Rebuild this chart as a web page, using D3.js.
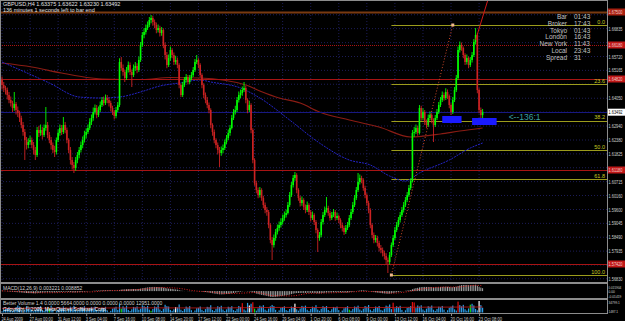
<!DOCTYPE html>
<html>
<head>
<meta charset="utf-8">
<script src="https://cdn.jsdelivr.net/npm/d3@7"></script>
<style>
body { margin: 0; background: #000; }
svg { display: block; font-family: "Liberation Sans", Arial, sans-serif; }
</style>
</head>
<body>
<svg id="chart" width="625" height="321"></svg>
<script>
// GBPUSD H4, 24 Aug - 23 Oct 2009

var firstOpen = 1.6478;
var closes = [
  1.6458,1.6446,1.6438,1.6418,1.6398,1.6386,1.6366,1.6382,1.6358,1.6346,
  1.6326,1.6298,1.6270,1.6238,1.6218,1.6230,1.6238,1.6218,1.6198,1.6178,
  1.6278,1.6266,1.6278,1.6258,1.6286,1.6298,1.6258,1.6238,1.6218,1.6198,
  1.6190,1.6238,1.6266,1.6286,1.6270,1.6298,1.6278,1.6238,1.6198,1.6158,
  1.6138,1.6126,1.6158,1.6178,1.6198,1.6218,1.6238,1.6258,1.6270,1.6286,
  1.6310,1.6326,1.6350,1.6366,1.6338,1.6358,1.6378,1.6398,1.6386,1.6406,
  1.6398,1.6386,1.6366,1.6350,1.6334,1.6358,1.6378,1.6550,1.6526,1.6510,
  1.6486,1.6518,1.6538,1.6510,1.6498,1.6526,1.6534,1.6518,1.6558,1.6618,
  1.6658,1.6670,1.6686,1.6698,1.6718,1.6726,1.6710,1.6698,1.6678,1.6686,
  1.6666,1.6678,1.6618,1.6578,1.6538,1.6566,1.6598,1.6578,1.6550,1.6558,
  1.6538,1.6458,1.6418,1.6458,1.6478,1.6490,1.6470,1.6486,1.6498,1.6518,
  1.6550,1.6558,1.6538,1.6498,1.6458,1.6418,1.6398,1.6378,1.6358,1.6298,
  1.6270,1.6238,1.6218,1.6198,1.6186,1.6198,1.6206,1.6230,1.6246,1.6266,
  1.6286,1.6326,1.6350,1.6358,1.6398,1.6418,1.6426,1.6438,1.6446,1.6398,
  1.6358,1.6378,1.6278,1.6158,1.6066,1.6038,1.6018,1.6038,1.6006,1.5978,
  1.5958,1.5950,1.5898,1.5838,1.5818,1.5846,1.5870,1.5886,1.5898,1.5910,
  1.5926,1.5938,1.5946,1.5978,1.6018,1.6058,1.6086,1.6098,1.6038,1.6006,
  1.5986,1.5998,1.5970,1.5958,1.5978,1.5950,1.5926,1.5938,1.5910,1.5878,
  1.5846,1.5858,1.5910,1.5938,1.5958,1.5966,1.5946,1.5926,1.5938,1.5950,
  1.5926,1.5934,1.5918,1.5898,1.5886,1.5870,1.5886,1.5898,1.5926,1.5950,
  1.5978,1.6006,1.6038,1.6070,1.6086,1.6078,1.6046,1.6018,1.5986,1.5958,
  1.5898,1.5858,1.5838,1.5846,1.5826,1.5806,1.5798,1.5786,1.5774,1.5758,
  1.5750,1.5778,1.5818,1.5846,1.5878,1.5898,1.5918,1.5938,1.5958,1.5978,
  1.5998,1.6018,1.6046,1.6074,1.6266,1.6270,1.6286,1.6266,1.6366,1.6326,
  1.6350,1.6310,1.6298,1.6326,1.6338,1.6318,1.6298,1.6326,1.6350,1.6378,
  1.6398,1.6418,1.6406,1.6430,1.6414,1.6378,1.6350,1.6398,1.6438,1.6486,
  1.6598,1.6618,1.6606,1.6578,1.6550,1.6566,1.6538,1.6558,1.6578,1.6630,
  1.6658,1.6438,1.6358,1.63375,1.63492
];
var highs = [
  1.6492,1.6470,1.6455,1.6448,1.6430,1.6412,1.6395,1.6430,1.6390,1.6372,
  1.6355,1.6335,1.6310,1.6282,1.6250,1.6245,1.6255,1.6248,1.6230,1.6210,
  1.6290,1.6295,1.6300,1.6290,1.6300,1.6370,1.6310,1.6270,1.6250,1.6228,
  1.6215,1.6248,1.6280,1.6300,1.6298,1.6330,1.6310,1.6288,1.6245,1.6210,
  1.6170,1.6150,1.6170,1.6190,1.6210,1.6232,1.6252,1.6275,1.6285,1.6300,
  1.6325,1.6340,1.6368,1.6380,1.6378,1.6372,1.6392,1.6410,1.6412,1.6420,
  1.6418,1.6408,1.6395,1.6375,1.6358,1.6370,1.6390,1.6565,1.6570,1.6540,
  1.6520,1.6530,1.6552,1.6548,1.6520,1.6540,1.6550,1.6545,1.6572,1.6630,
  1.6670,1.6685,1.6700,1.6712,1.6730,1.6738,1.6735,1.6720,1.6708,1.6700,
  1.6695,1.6690,1.6685,1.6628,1.6590,1.6580,1.6612,1.6605,1.6588,1.6575,
  1.6568,1.6545,1.6465,1.6470,1.6490,1.6502,1.6498,1.6498,1.6510,1.6530,
  1.6562,1.6578,1.6565,1.6545,1.6505,1.6465,1.6428,1.6410,1.6388,1.6365,
  1.6305,1.6280,1.6245,1.6228,1.6210,1.6212,1.6220,1.6240,1.6258,1.6280,
  1.6298,1.6338,1.6362,1.6375,1.6410,1.6432,1.6440,1.6452,1.6470,1.6455,
  1.6405,1.6395,1.6385,1.6285,1.6165,1.6075,1.6048,1.6050,1.6045,1.6015,
  1.5988,1.5970,1.5958,1.5905,1.5850,1.5860,1.5882,1.5900,1.5912,1.5925,
  1.5940,1.5952,1.5960,1.5990,1.6030,1.6070,1.6098,1.6110,1.6105,1.6045,
  1.6015,1.6012,1.6005,1.5980,1.5992,1.5985,1.5958,1.5952,1.5945,1.5918,
  1.5885,1.5870,1.5922,1.5950,1.5972,1.6010,1.5975,1.5955,1.5950,1.5962,
  1.5958,1.5948,1.5940,1.5925,1.5908,1.5895,1.5898,1.5910,1.5938,1.5962,
  1.5990,1.6018,1.6050,1.6106,1.6100,1.6095,1.6085,1.6055,1.6025,1.5995,
  1.5965,1.5905,1.5868,1.5858,1.5855,1.5835,1.5818,1.5808,1.5795,1.5785,
  1.5768,1.5790,1.5828,1.5858,1.5890,1.5910,1.5930,1.5950,1.5970,1.5990,
  1.6010,1.6030,1.6058,1.6085,1.6278,1.6290,1.6300,1.6295,1.6378,1.6375,
  1.6365,1.6358,1.6320,1.6340,1.6352,1.6345,1.6325,1.6338,1.6362,1.6390,
  1.6410,1.6432,1.6428,1.6445,1.6440,1.6420,1.6385,1.6410,1.6450,1.6498,
  1.6612,1.6632,1.6628,1.6612,1.6585,1.6580,1.6572,1.6570,1.6590,1.6642,
  1.6686,1.6665,1.6445,1.6368,1.63622
];
var lows = [
  1.6440,1.6430,1.6420,1.6400,1.6385,1.6372,1.6350,1.6355,1.6340,1.6330,
  1.6310,1.6285,1.6255,1.6158,1.6200,1.6205,1.6220,1.6205,1.6180,1.6158,
  1.6170,1.6250,1.6255,1.6240,1.6250,1.6275,1.6245,1.6225,1.6200,1.6185,
  1.6170,1.6180,1.6230,1.6255,1.6258,1.6262,1.6265,1.6225,1.6185,1.6140,
  1.6120,1.6106,1.6115,1.6145,1.6165,1.6188,1.6205,1.6228,1.6245,1.6262,
  1.6278,1.6298,1.6315,1.6340,1.6325,1.6330,1.6350,1.6370,1.6375,1.6378,
  1.6385,1.6372,1.6352,1.6338,1.6320,1.6325,1.6350,1.6370,1.6515,1.6495,
  1.6470,1.6478,1.6508,1.6498,1.6450,1.6490,1.6515,1.6505,1.6510,1.6550,
  1.6610,1.6645,1.6660,1.6678,1.6690,1.6705,1.6695,1.6685,1.6665,1.6668,
  1.6652,1.6655,1.6605,1.6560,1.6525,1.6530,1.6555,1.6565,1.6538,1.6540,
  1.6525,1.6445,1.6410,1.6410,1.6450,1.6468,1.6460,1.6462,1.6478,1.6490,
  1.6510,1.6542,1.6525,1.6488,1.6445,1.6405,1.6385,1.6365,1.6345,1.6285,
  1.6255,1.6225,1.6205,1.6180,1.6130,1.6175,1.6185,1.6198,1.6222,1.6238,
  1.6255,1.6280,1.6318,1.6340,1.6350,1.6388,1.6405,1.6415,1.6430,1.6385,
  1.6345,1.6350,1.6265,1.6145,1.6055,1.6025,1.6005,1.6008,1.5995,1.5965,
  1.5945,1.5935,1.5885,1.5825,1.5758,1.5808,1.5835,1.5860,1.5875,1.5888,
  1.5900,1.5915,1.5928,1.5940,1.5970,1.6010,1.6048,1.6075,1.6025,1.5995,
  1.5972,1.5975,1.5958,1.5945,1.5950,1.5938,1.5912,1.5918,1.5898,1.5865,
  1.5790,1.5835,1.5850,1.5900,1.5930,1.5948,1.5935,1.5915,1.5918,1.5930,
  1.5915,1.5918,1.5905,1.5885,1.5872,1.5858,1.5862,1.5878,1.5890,1.5918,
  1.5942,1.5970,1.5998,1.6030,1.6060,1.6065,1.6035,1.6005,1.5975,1.5945,
  1.5885,1.5845,1.5825,1.5828,1.5812,1.5792,1.5785,1.5772,1.5760,1.5742,
  1.5706,1.5740,1.5770,1.5810,1.5838,1.5870,1.5890,1.5908,1.5930,1.5948,
  1.5970,1.5990,1.6010,1.6038,1.6068,1.6250,1.6262,1.6255,1.6260,1.6315,
  1.6318,1.6298,1.6285,1.6290,1.6318,1.6305,1.6230,1.6290,1.6318,1.6342,
  1.6370,1.6390,1.6395,1.6398,1.6402,1.6365,1.6338,1.6342,1.6390,1.6430,
  1.6478,1.6588,1.6595,1.6565,1.6538,1.6540,1.6525,1.6530,1.6548,1.6570,
  1.6620,1.6425,1.6345,1.6320,1.63230
];

// tick volume per bar
var volumes = [
  4800,9200,15800,13900,17600,7900, 5600,8700,16900,21800,18400,8100,
  5100,9900,19500,15200,16800,7600, 4900,8300,14700,17400,19800,9000,
  6100,10200,17800,14600,21400,8800, 1487,5300,9600,16400,15100,18900,
  7800,4700,10800,18300,16600,20700, 8400,5200,9400,15900,17200,19600,
  7300,6000,11200,17700,15800,18500, 8600,4300,8900,16100,14700,17900,
  7700,2900,6400,12800,15600,18200, 9100,27400,12600,19400,15300,21200,
  8800,5800,10700,17600,16200,19100, 9400,12600,22300,19800,17400,20600,
  9800,6400,11600,18900,17100,22400, 10200,5700,12400,23900,19700,18600,
  8900,6300,10900,17300,16100,24800, 9600,5900,11800,18600,15700,19900,
  8100,2600,7400,13900,15200,18800, 9300,5500,11300,17900,16800,22600,
  8700,6100,12200,19600,17300,20900, 9900,5800,10600,18200,16400,19700,
  8500,6200,11900,20400,17700,28600, 10400,7100,29300,21800,26900,31200,
  12800,6900,13500,21200,18400,22700, 9800,6600,12700,19300,23400,20100,
  9200,3100,7800,14800,17200,19400, 8600,6300,11400,18700,16900,27100,
  10700,6800,12900,20600,18200,21500, 9500,6000,11700,18400,16300,22800,
  9900,6400,12300,19800,17500,20300, 8800,5700,10800,17600,15900,18700,
  8400,2800,7300,13600,16700,19900, 9700,6500,11600,18900,17800,21300,
  10300,6700,12400,20100,18300,23200, 9600,6100,11900,18800,16600,20400,
  9100,6800,12800,21400,19200,24600, 11200,29800,13600,19700,17400,20800,
  8900,3200,7900,14500,17100,20200, 31800,30600,14200,21900,18600,22400,
  10100,6600,12500,19600,17900,21700, 9400,6200,11800,18300,16700,20500,
  9800,3000,8100,15200,18100,21600, 10600,7000,33100,22800,19300,23700,
  10900,6900,13200,24100,26700,21900, 11800,7600,34799,22900,15300
];
var volWhite = [12, 99, 141, 167, 272];
var volGreen = [27, 68, 85, 144, 198, 267];
var volRed = [137, 143, 223, 234, 235, 260];
var volAvg = [[0,13500],[40,14200],[80,15000],[120,14600],[160,16200],[200,15400],[240,16800],[274,17500]];

// MACD(12,26,9) main, in pips
var macdPips = [
  10,5,0,-5,-10,-14,-18,-20,-24,-27,-30,-34,-38,-42,-46,-48,-49,-50,-52,-54,
  -48,-45,-41,-38,-34,-30,-29,-29,-30,-31,-32,-29,-25,-21,-19,-16,-15,
  -17,-20,-24,-28,-31,
  -30,-28,-25,-22,-18,-14,-10,-6,-2,2,6,10,12,13,15,17,19,20,21,21,20,18,15,14,14,
  26,35,40,42,45,48,48,48,49,50,50,52,
  60,68,75,82,88,94,98,100,100,98,96,93,91,
  84,75,66,60,56,51,45,40,35,
  24,12,6,2,0,-3,-4,-4,-3,0,2,2,
  -2,-8,-15,-21,-27,-34,-43,-51,-59,-66,-72,-77,
  -78,-77,-74,-70,-65,-59,-52,-44,-37,-28,-20,-13,-7,-2,
  -3,-7,-8,-16,-30,-46,-60,-72,-80,-90,-99,-106,-115,-126,-136,-142,
  -140,-136,-131,-126,-120,-114,-108,-102,-95,-85,-73,-62,-52,
  -48,-46,-45,-43,-43,-43,-41,-41,-42,-42,-44,-48,-52,-54,
  -51,-46,-40,-35,-33,-32,-30,-28,-28,-27,-27,-29,-31,-33,-33,-32,
  -28,-22,-15,-8,0,8,14,18,
  18,15,10,4,-5,-15,-24,-30,-36,-42,-47,-52,-56,-60,-63,
  -60,-54,-46,-37,-29,-21,-13,-6,1,7,13,19,25,
  45,60,72,79,90,96,100,101,100,100,99,97,94,93,94,96,99,102,103,105,104,100,95,95,98,104,
  120,134,144,148,148,148,145,143,142,146,152,
  130,105,85,70
];
var signalPips = [[0,5],[10,-10],[20,-40],[30,-38],[40,-24],[50,-20],[60,10],[70,20],[80,45],[90,85],
  [100,70],[110,5],[120,-25],[128,-60],[136,-50],[145,-35],[155,-110],[165,-115],[175,-55],[185,-45],
  [195,-30],[205,-10],[215,-15],[222,-50],[232,-10],[240,55],[250,95],[260,100],[270,140],[274,128]];

// moving averages [bar, price]
var maSlow = [[0,1.6546],[17,1.6530],[34,1.6506],[51,1.6486],[57,1.6482],[80,1.6480],[96,1.6488],
  [113,1.6486],[139,1.6458],[147,1.6434],[158,1.6406],[170,1.6386],[181,1.6350],[198,1.6318],
  [215,1.6290],[233,1.6250],[250,1.6262],[261,1.6274],[274,1.6286]];
var maFast = [[0,1.6550],[27,1.6466],[44,1.6410],[56,1.6406],[67,1.6410],[79,1.6430],[90,1.6454],
  [101,1.6466],[113,1.6478],[119,1.6470],[136,1.6446],[147,1.6406],[164,1.6318],[181,1.6226],
  [198,1.6158],[210,1.6138],[221,1.6094],[230,1.6074],[238,1.6106],[255,1.6158],[267,1.6206],[274,1.6226]];

var timeLabels = ["24 Aug 2009","27 Aug 00:00","31 Aug 12:00","3 Sep 04:00","7 Sep 16:00","10 Sep 08:00",
  "14 Sep 20:00","17 Sep 12:00","22 Sep 00:00","24 Sep 16:00","29 Sep 04:00","1 Oct 20:00",
  "6 Oct 08:00","9 Oct 00:00","13 Oct 12:00","16 Oct 04:00","20 Oct 16:00","23 Oct 08:00"];
var barsPerLabel = 16;
var priceTicks = [1.67390,1.66835,1.66275,1.65720,1.65165,1.64610,1.64050,1.63495,1.62940,1.62380,
  1.61825,1.61270,1.60715,1.60160,1.59600,1.59045,1.58490,1.57935,1.57380,1.56830];

var levels = [1.6750, 1.6618, 1.6482, 1.6118, 1.5742];
var fibLevels = [0.0, 23.6, 38.2, 50.0, 61.8, 100.0];
var fibHigh = 1.6698, fibLow = 1.5698, fibBars = [222, 257];
var trendLine = [[270, 1.6638], [277, 1.6798]];
var boxes = [[251, 262, 1.6334, 1.6306], [268, 282, 1.6326, 1.6298]];
var boxNote = "<--136:1";
var lastPrice = 1.63492;
var title = "GBPUSD,H4  1.63375 1.63622 1.63230 1.63492";
var countdown = "136 minutes 1 seconds left to bar end";
var infoRows = [["Bar","01:43"],["Broker","17:43"],["Tokyo","01:43"],["London","16:43"],
  ["New York","11:43"],["Local","23:43"],["Spread","31"]];
var macdTitle = "MACD(12,26,9) 0.003221 0.008852";
var macdRange = [-0.014189, 0.015904];
var volTitle = "Better Volume 1.4 0.0000 5664.0000 0.0000 0.0000 0.0000 12951.0000";
var volRange = [1487.1, 34799.1];

// ---------- drawing ----------
var svg = d3.select("#chart");
var W = 625, H = 321, plotR = 607;
var txt = "#d0d0d0";
var fitText = function (sel, perChar) {
  sel.attr("textLength", function () { return this.textContent.length * perChar; })
    .attr("lengthAdjust", "spacingAndGlyphs");
};

svg.append("rect").attr("width", W).attr("height", H).attr("fill", "#000");

var x = d3.scaleLinear().domain([0, 274]).range([2, 482.6]);
var y = d3.scaleLinear().domain([1.5698, 1.6782]).range([275, 4]);
var ym = d3.scaleLinear().domain(macdRange).range([297, 284.5]);
var yv = d3.scaleLinear().domain(volRange).range([312.5, 301]);

svg.append("clipPath").attr("id", "mainclip")
  .append("rect").attr("x", 0).attr("y", 0).attr("width", plotR).attr("height", 282);

var main = svg.append("g").attr("clip-path", "url(#mainclip)");

// grid
var labelBars = d3.range(0, 275, barsPerLabel);
main.selectAll(".vg").data(labelBars).enter().append("line")
  .attr("x1", d => x(d)).attr("x2", d => x(d)).attr("y1", 0).attr("y2", 313)
  .attr("stroke", "#1c1c58").attr("stroke-dasharray", "1,2");
main.selectAll(".hg").data(priceTicks).enter().append("line")
  .attr("x1", 0).attr("x2", plotR).attr("y1", d => y(d)).attr("y2", d => y(d))
  .attr("stroke", "#1c1c58").attr("stroke-dasharray", "1,2");

// fibonacci
var fibPrice = L => fibHigh - L / 100 * (fibHigh - fibLow);
main.selectAll(".fib").data(fibLevels).enter().append("line")
  .attr("x1", x(fibBars[0])).attr("x2", plotR)
  .attr("y1", d => Math.round(y(fibPrice(d))) + 0.5).attr("y2", d => Math.round(y(fibPrice(d))) + 0.5)
  .attr("stroke", "#9c9c1c").attr("stroke-width", 1);
svg.selectAll(".fibt").data(fibLevels).enter().append("text")
  .attr("x", 605).attr("y", d => y(fibPrice(d)) - 1.5)
  .attr("text-anchor", "end").attr("font-size", 5.5).attr("fill", "#c8c820")
  .text(d => d.toFixed(1));

// moving averages
var maLine = d3.line().x(d => x(d[0])).y(d => y(d[1])).curve(d3.curveMonotoneX);
main.append("path").attr("d", maLine(maSlow)).attr("fill", "none")
  .attr("stroke", "#8a1c14").attr("stroke-width", 1.2);
main.append("path").attr("d", maLine(maFast)).attr("fill", "none")
  .attr("stroke", "#2424c8").attr("stroke-width", 1).attr("stroke-dasharray", "2,1");

// horizontal levels
var levelStroke = ["#7a3a10", "#a81414", "#a81414", "#a81414", "#a81414"];
main.selectAll(".lvl").data(levels).enter().append("line")
  .attr("x1", 0).attr("x2", plotR)
  .attr("y1", d => Math.round(y(d)) + 0.5).attr("y2", d => Math.round(y(d)) + 0.5)
  .attr("stroke", (d, i) => levelStroke[i])
  .attr("stroke-width", (d, i) => i === 0 ? 2 : 1)
  .attr("stroke-dasharray", (d, i) => i === 1 ? "1,1" : null);
// bid line
main.append("line").attr("x1", 0).attr("x2", plotR)
  .attr("y1", Math.round(y(lastPrice)) + 0.5).attr("y2", Math.round(y(lastPrice)) + 0.5)
  .attr("stroke", "#181880");

// candles
var bars = closes.map((c, i) => ({ i: i, o: i ? closes[i - 1] : firstOpen, h: highs[i], l: lows[i], c: c }));
var col = d => d.c >= d.o ? "#00ff00" : "#cc2222";
main.selectAll(".wick").data(bars).enter().append("line")
  .attr("x1", d => x(d.i)).attr("x2", d => x(d.i))
  .attr("y1", d => y(d.h)).attr("y2", d => y(d.l))
  .attr("stroke", col).attr("stroke-width", 0.9);
main.selectAll(".body").data(bars).enter().append("rect")
  .attr("x", d => x(d.i) - 0.8).attr("width", 1.6)
  .attr("y", d => y(Math.max(d.o, d.c)))
  .attr("height", d => Math.max(0.8, Math.abs(y(d.o) - y(d.c))))
  .attr("fill", col);

// fib trend line + anchors
main.append("line")
  .attr("x1", x(fibBars[0])).attr("y1", y(fibLow)).attr("x2", x(fibBars[1])).attr("y2", y(fibHigh))
  .attr("stroke", "#d04a2a").attr("stroke-dasharray", "1,2");
main.selectAll(".anc").data([[fibBars[0], fibLow], [fibBars[1], fibHigh]]).enter().append("rect")
  .attr("x", d => x(d[0]) - 1.5).attr("y", d => y(d[1]) - 1.5).attr("width", 3).attr("height", 3)
  .attr("fill", "#f0b890");
main.append("line")
  .attr("x1", x(trendLine[0][0])).attr("y1", y(trendLine[0][1]))
  .attr("x2", x(trendLine[1][0])).attr("y2", y(trendLine[1][1]))
  .attr("stroke", "#d01818");

// blue boxes
main.selectAll(".box").data(boxes).enter().append("rect")
  .attr("x", d => x(d[0])).attr("width", d => x(d[1]) - x(d[0]))
  .attr("y", d => y(d[2])).attr("height", d => y(d[3]) - y(d[2]))
  .attr("fill", "#1a1aff");
svg.append("text").attr("x", x(boxes[1][1]) + 12).attr("y", y(boxes[1][2]) + 1.5)
  .attr("font-size", 8.5).attr("fill", "#3a9fa0").text(boxNote);

// MACD panel
var zero = ym(0);
svg.selectAll(".mh").data(macdPips).enter().append("line")
  .attr("x1", (d, i) => x(i)).attr("x2", (d, i) => x(i))
  .attr("y1", zero).attr("y2", d => ym(d / 10000))
  .attr("stroke", "#b8b8b8").attr("stroke-width", 0.9);
svg.append("path")
  .attr("d", d3.line().x(d => x(d[0])).y(d => ym(d[1] / 10000)).curve(d3.curveMonotoneX)(signalPips))
  .attr("fill", "none").attr("stroke", "#e02020").attr("stroke-dasharray", "1,1.5");

// volume panel
var vcol = i => volRed.indexOf(i) >= 0 ? "#e01010" : volWhite.indexOf(i) >= 0 ? "#ffffff"
  : volGreen.indexOf(i) >= 0 ? "#10e010" : "#2b9be6";
svg.selectAll(".vb").data(volumes).enter().append("rect")
  .attr("x", (d, i) => x(i) - 0.6).attr("width", 1.2)
  .attr("y", d => yv(d)).attr("height", d => yv.range()[0] - yv(d))
  .attr("fill", (d, i) => vcol(i));
svg.append("path")
  .attr("d", d3.line().x(d => x(d[0])).y(d => yv(d[1])).curve(d3.curveMonotoneX)(volAvg))
  .attr("fill", "none").attr("stroke", "#c81818").attr("stroke-width", 0.8);

// panel frames
var frames = [[0.5, 282.5], [283.5, 298.5], [299.5, 313.5]];
frames.forEach(f => {
  svg.append("rect").attr("x", 0.5).attr("y", f[0]).attr("width", plotR).attr("height", f[1] - f[0])
    .attr("fill", "none").attr("stroke", "#8c8c8c");
});

// price axis: labels hidden behind the level boxes are not drawn
var boxed = levels.concat([lastPrice]);
var shownTicks = priceTicks.filter(p => boxed.every(b => Math.abs(y(p) - y(b)) > 6));
var pa = svg.append("g").attr("transform", "translate(" + (plotR + 1.5) + ",0)")
  .call(d3.axisRight(y).tickValues(shownTicks).tickFormat(d3.format(".5f")).tickSize(0));
pa.select(".domain").remove();
pa.selectAll("text").attr("x", 0).attr("fill", txt).attr("font-size", 4.8);
fitText(pa.selectAll("text"), 2.0);

var levelBox = ["#a82010", "#c01818", "#c01818", "#c01818", "#c01818"];
svg.selectAll(".lb").data(levels).enter().append("rect")
  .attr("x", plotR + 1).attr("y", d => y(d) - 3.5).attr("width", W - plotR - 1).attr("height", 7)
  .attr("fill", (d, i) => levelBox[i]);
var lbt = svg.selectAll(".lbt").data(levels).enter().append("text")
  .attr("x", plotR + 1.5).attr("y", d => y(d) + 2).attr("font-size", 4.8).attr("fill", "#f0c8c8")
  .text(d => d.toFixed(5));
fitText(lbt, 2.0);
svg.append("rect").attr("x", plotR + 1).attr("y", y(lastPrice) - 3.5).attr("width", W - plotR - 1).attr("height", 7)
  .attr("fill", "#ffffff");
fitText(svg.append("text").attr("x", plotR + 1.5).attr("y", y(lastPrice) + 2)
  .attr("font-size", 4.8).attr("fill", "#000").text(lastPrice.toFixed(5)), 2.0);

// MACD / volume axis labels
var sideLabels = [[288.5, macdRange[1].toFixed(6)], [zero + 1.8, "0.00"], [297.5, macdRange[0].toFixed(5)],
  [304, volRange[1].toFixed(1)], [312.5, volRange[0].toFixed(1)]];
var sl = svg.selectAll(".sl").data(sideLabels).enter().append("text")
  .attr("x", plotR + 1.5).attr("y", d => d[0]).attr("font-size", 4).attr("fill", txt).text(d => d[1]);
fitText(sl, 1.6);

// time axis
var ta = svg.append("g").attr("transform", "translate(0,314)")
  .call(d3.axisBottom(x).tickValues(labelBars).tickFormat((d, i) => timeLabels[i]).tickSize(2));
ta.select(".domain").remove();
ta.selectAll("line").attr("stroke", "#8c8c8c");
ta.selectAll("text").attr("text-anchor", "start").attr("dx", -1).attr("y", 3)
  .attr("fill", txt).attr("font-size", 5);
fitText(ta.selectAll("text"), 1.95);

// titles
svg.append("text").attr("x", 3).attr("y", 6).attr("font-size", 5.5).attr("fill", "#e0e0e0").text(title);
svg.append("text").attr("x", 3).attr("y", 11.5).attr("font-size", 5.5).attr("fill", "#e0e0e0").text(countdown);
svg.append("text").attr("x", 3).attr("y", 289.5).attr("font-size", 5).attr("fill", txt).text(macdTitle);
svg.append("text").attr("x", 3).attr("y", 305).attr("font-size", 5).attr("fill", txt).text(volTitle);
svg.append("text").attr("x", 3).attr("y", 311).attr("font-size", 5).attr("fill", "#ffffff")
  .text("Copyright \u00a9 2009, MetaQuotes Software Corp.");

// info panel
var info = svg.append("g");
info.selectAll(".il").data(infoRows).enter().append("text")
  .attr("x", 567).attr("y", (d, i) => 19 + i * 6.8).attr("text-anchor", "end")
  .attr("font-size", 6.5).attr("fill", "#c0c0c0").text(d => d[0]);
info.selectAll(".iv").data(infoRows).enter().append("text")
  .attr("x", 574).attr("y", (d, i) => 19 + i * 6.8)
  .attr("font-size", 6.5).attr("fill", "#c0c0c0").text(d => d[1]);
</script>
</body>
</html>
